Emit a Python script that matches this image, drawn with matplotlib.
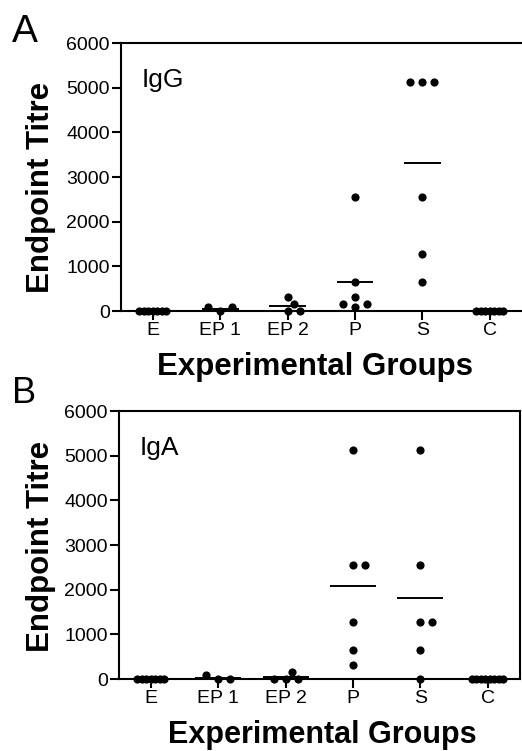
import numpy as np
import matplotlib
matplotlib.use("Agg")
import matplotlib.pyplot as plt

plt.rcParams["font.family"] = ["Liberation Sans", "DejaVu Sans"]

# ── Data (endpoint titres) ────────────────────────────────────────────────────
GROUPS = ["E", "EP 1", "EP 2", "P", "S", "C"]
YTICKS = [0, 1000, 2000, 3000, 4000, 5000, 6000]

IGG_E   = [0, 0, 0, 0, 0, 0, 0]
IGG_EP1 = [80, 0, 80]
IGG_EP2 = [160, 320, 0, 0]
IGG_P   = [2560, 640, 320, 160, 160, 80]
IGG_S   = [5120, 5120, 5120, 2560, 1280, 640]
IGG_C   = [0, 0, 0, 0, 0, 0, 0]

IGA_E   = [0, 0, 0, 0, 0, 0, 0]
IGA_EP1 = [80, 0, 0]
IGA_EP2 = [160, 0, 0, 0]
IGA_P   = [5120, 2560, 2560, 1280, 640, 320]
IGA_S   = [5120, 2560, 1280, 1280, 640, 0]
IGA_C   = [0, 0, 0, 0, 0, 0, 0, 0]

W, H, DPI = 522, 751, 100
XLIM = (-0.475, 5.48)
YLIM = (0, 6000)
AX_W_PX, AX_H_PX = 401, 268


def swarm_offsets(vals, px_x, px_y, step=6.0, min_d=7.5, tie_gap=4.5):
    """GraphPad-like scatter spreading: ties/overlaps pushed sideways (pixels)."""
    vals = np.asarray(vals, float)
    offs = np.zeros(len(vals))
    placed = []
    uniq, counts = np.unique(vals, return_counts=True)
    crowded = {u for u, c in zip(uniq, counts) if c >= 4}
    for u in crowded:
        idx = np.where(vals == u)[0]
        offs[idx] = (np.arange(len(idx)) - (len(idx) - 1) / 2) * tie_gap
        placed += [(offs[i], u * px_y) for i in idx]
    for i in np.argsort(vals, kind="stable"):
        if vals[i] in crowded:
            continue
        y = vals[i] * px_y
        k = 0
        while True:
            cand = 0.0 if k == 0 else step * ((k + 1) // 2) * (1 if k % 2 else -1)
            if all(np.hypot(cand - px, y - py) >= min_d for px, py in placed):
                break
            k += 1
        offs[i] = cand
        placed.append((cand, y))
    return offs / px_x


def draw_panel(ax, series, tag, half_w, right_spine):
    px_x = AX_W_PX / (XLIM[1] - XLIM[0])
    px_y = AX_H_PX / (YLIM[1] - YLIM[0])
    for i, vals in enumerate(series):
        xo = swarm_offsets(vals, px_x, px_y)
        ax.plot(i + xo, vals, "o", color="black", ms=5.9, mec="none",
                clip_on=False, zorder=3)
        ax.hlines(np.mean(vals), i - half_w, i + half_w, color="black",
                  lw=1.4, clip_on=False, zorder=2)
    ax.set_xlim(*XLIM)
    ax.set_ylim(*YLIM)
    ax.set_xticks(range(len(GROUPS)))
    ax.set_xticklabels(GROUPS)
    ax.set_yticks(YTICKS)
    ax.tick_params(axis="both", direction="out", length=6.5, width=1.5,
                   labelsize=14, colors="black")
    ax.tick_params(axis="y", pad=1.5)
    ax.tick_params(axis="x", pad=1.5)
    for side in ["left", "top", "bottom", "right"]:
        ax.spines[side].set_linewidth(1.5)
    ax.spines["right"].set_visible(right_spine)
    ax.text(0.052, 0.834, tag, transform=ax.transAxes, fontsize=19,
            va="baseline", ha="left")


fig = plt.figure(figsize=(W / DPI, H / DPI), dpi=DPI)

axA = fig.add_axes([121 / W, 1 - 311 / H, AX_W_PX / W, AX_H_PX / H])
draw_panel(axA, [IGG_E, IGG_EP1, IGG_EP2, IGG_P, IGG_S, IGG_C], "IgG", 0.27, False)

axB = fig.add_axes([119 / W, 1 - 679 / H, AX_W_PX / W, AX_H_PX / H])
draw_panel(axB, [IGA_E, IGA_EP1, IGA_EP2, IGA_P, IGA_S, IGA_C], "IgA", 0.34, True)

# panel letters
fig.text(12 / W, 1 - 42 / H, "A", fontsize=28, va="baseline", ha="left")
fig.text(12 / W, 1 - 403 / H, "B", fontsize=26, va="baseline", ha="left")

# axis titles
for yc in (1 - 187 / H, 1 - 546 / H):
    fig.text(41 / W, yc, "Endpoint Titre", fontsize=22.5, fontweight="bold",
             rotation=90, ha="center", va="center")
fig.text(315 / W, 1 - 375 / H, "Experimental Groups", fontsize=22.5,
         fontweight="bold", ha="center", va="baseline")
fig.text(322 / W, 1 - 743 / H, "Experimental Groups", fontsize=22,
         fontweight="bold", ha="center", va="baseline")

fig.savefig("out.png", dpi=DPI)
